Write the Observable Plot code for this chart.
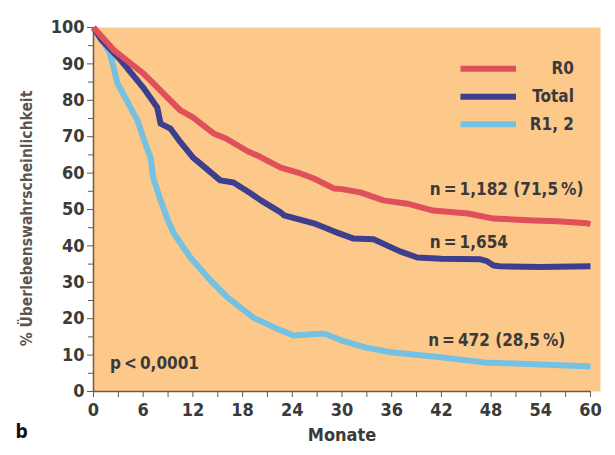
<!DOCTYPE html>
<html><head><meta charset="utf-8">
<script src="https://cdn.jsdelivr.net/npm/d3@7"></script>
<script src="https://cdn.jsdelivr.net/npm/@observablehq/plot@0.6"></script>
<style>
html,body{margin:0;padding:0;background:#fff;}
#chart svg{display:block;background:#fde3b2;box-shadow:inset 10px 8px 0 #fff;}
</style>
</head><body><div id="chart"></div>
<script>
// Kaplan–Meier curves (months, survival %)
const r0Months  = [0,1,2.5,4,6,7.5,8.9,10.5,12,14.5,16,18.6,20,22.6,25,26.6,29,30,32.2,35,37.9,41,45.2,48.3,53.1,56,59.6,60];
const r0Values  = [100,97.5,93.7,91,87.4,84,80.8,77.2,75.3,70.9,69.5,66,64.6,61.5,59.9,58.5,55.8,55.6,54.7,52.5,51.6,49.7,48.9,47.5,47,46.8,46.2,46];
const totalMonths = [0,1,3.3,6,7.7,8.1,9.3,10.5,12,12.9,15.3,16.9,19,20.2,22.6,23,26.6,29,31.4,33.8,37,39.1,42,46.7,47.5,48.3,49,54,60];
const totalValues = [100,96.5,91,83.5,78,73.6,72.2,68.5,64.3,62.6,58,57.4,54.4,52.5,49.2,48.4,46.2,44,42,41.8,38.5,36.8,36.5,36.3,35.8,34.6,34.4,34.2,34.4];
const r12Months = [0,1,2,2.9,4,5.3,6.5,6.9,7.2,8.1,9,9.7,11.7,13.8,16.2,19.3,22.6,24.2,27.4,28,30,33,35.9,41.9,47.1,54,60];
const r12Values = [100,97,92.8,84.6,80,74.5,66.5,64.3,58.8,52.5,47,43.4,36.8,31.3,25.8,20.3,16.8,15.4,15.9,15.8,14,12,10.8,9.4,8,7.4,6.9];

const seriesNames  = ["R0","Total","R1, 2"];
const seriesColors = ["#e0505a","#3d3f8e","#74c1e2"];

const yTicks = d3.range(0,101,10);
const yMinor = d3.range(5,100,10);
const xTicks = d3.range(0,61,6);
const xMinor = d3.range(3,60,6);

// annotations
const notes = [
  {text:"n\u2009=\u20091,182 (71,5\u2009%)", m:40.6, v:55.4},
  {text:"n\u2009=\u20091,654", m:40.6, v:41},
  {text:"n\u2009=\u2009472 (28,5\u2009%)", m:40.4, v:14},
  {text:"p\u2009<\u20090,0001", m:2, v:7.7}
];
// legend layout (in data units)
const legend = seriesNames.map((name,i)=>({name, color:seriesColors[i], x1:44.3, x2:51, xt:58, v:[88.7,81,73.4][i]}));

const mk = (ms,vs,name)=>ms.map((m,i)=>({m, v:vs[i], name}));
const data = [
  ...mk(r12Months,r12Values,"R1, 2"),
  ...mk(totalMonths,totalValues,"Total"),
  ...mk(r0Months,r0Values,"R0")
];

const font = "'DejaVu Sans Condensed','DejaVu Sans',sans-serif";
const textColor = "#3a3a3a";

const chart = Plot.plot({
  width:615, height:455,
  marginLeft:93, marginRight:25, marginTop:27, marginBottom:64,
  style:{fontFamily:font, fontWeight:"bold", fontStretch:"condensed", background:"transparent"},
  x:{domain:[0,60]},
  y:{domain:[0,100]},
  color:{domain:seriesNames, range:seriesColors},
  marks:[
    Plot.frame({fill:"#fcc98b", stroke:null, insetRight:-10}),
    Plot.axisY({ticks:yTicks, tickSize:6, tickPadding:3, fontSize:18, fill:textColor, stroke:"#6b5b45", label:null}),
    Plot.axisY({ticks:yMinor, tickSize:5, text:null, stroke:"#6b5b45", label:null}),
    Plot.axisX({ticks:xTicks, tickSize:6, tickPadding:6, fontSize:18, fill:textColor, stroke:"#6b5b45", label:null}),
    Plot.axisX({ticks:xMinor, tickSize:6, text:null, stroke:"#6b5b45", label:null}),
    Plot.ruleX([0], {stroke:"#6b5b45", strokeWidth:1.5}),
    Plot.ruleY([0], {stroke:"#6b5b45", strokeWidth:1.5}),
    Plot.line(data, {x:"m", y:"v", z:"name", stroke:"name", strokeWidth:6, strokeLinejoin:"round", strokeLinecap:"butt"}),
    Plot.text(notes, {x:"m", y:"v", text:"text", textAnchor:"start", fontSize:17, fill:textColor}),
    Plot.link(legend, {x1:"x1", x2:"x2", y1:"v", y2:"v", stroke:"color", strokeWidth:6}),
    Plot.text(legend, {x:"xt", y:"v", text:"name", textAnchor:"end", fontSize:17, fill:textColor}),
    Plot.text(["Monate"], {frameAnchor:"bottom", dy:49, fontSize:18, fill:textColor}),
    Plot.text(["% Überlebenswahrscheinlichkeit"], {frameAnchor:"left", textAnchor:"middle", dx:-66, dy:9, rotate:-90, fontSize:15.5, fill:"#5a5550"}),
    Plot.text(["b"], {frameAnchor:"bottom-left", dx:-78, dy:46, fontSize:19, fill:"#111"})
  ]
});
document.getElementById("chart").append(chart);
</script>
</body></html>
